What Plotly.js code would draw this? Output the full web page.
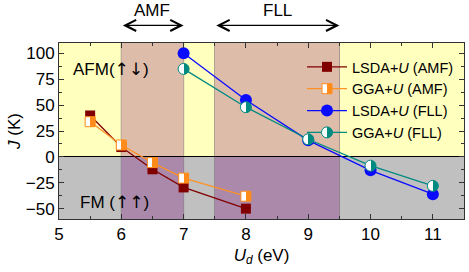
<!DOCTYPE html>
<html>
<head>
<meta charset="utf-8">
<script src="https://cdn.plot.ly/plotly-3.0.1.min.js"></script>
<style>html,body{margin:0;padding:0;background:#fff}#chart{width:469px;height:272px}</style>
</head>
<body>
<div id="chart"></div>
<script>
// ---- data ----
const amfU = [5.5, 6, 6.5, 7, 8];
const lsdaAMF = [40, 9.5, -12, -29.5, -50];
const ggaAMF = [34, 11.5, -5.5, -20.5, -38];
const fllU = [7, 8, 9, 10, 11];
const lsdaFLL = [100, 55, 16, -13, -36];
const ggaFLL = [85, 48, 17, -8.5, -28];
const amfRegion = [6, 7];
const fllRegion = [7.5, 9.5];
const yTicks = [-50, -25, 0, 25, 50, 75, 100];
const xTicks = [5, 6, 7, 8, 9, 10, 11];

const FONT = 'Liberation Sans, Arial, sans-serif';
const ARROWFONT = 'DejaVu Sans';
const yellow = '#FFFFBE', brown = '#DDBCA9', gray = '#C0C0C0', purple = '#AB89AB';

const traces = [
  {x: amfU, y: lsdaAMF, name: 'LSDA+<i>U</i> (AMF)', mode: 'lines+markers',
   line: {color: '#800000', width: 1.3},
   marker: {symbol: 'square', size: 10, color: '#800000'}},
  {x: amfU, y: ggaAMF, name: 'GGA+<i>U</i> (AMF)', mode: 'lines+markers',
   line: {color: '#FF9126', width: 1.3},
   marker: {symbol: 'square', size: 10, color: '#FF8C1A', line: {color: '#FF8C1A', width: 1},
            gradient: {type: 'horizontal', color: '#FFFFFF'}}},
  {x: fllU, y: lsdaFLL, name: 'LSDA+<i>U</i> (FLL)', mode: 'lines+markers',
   line: {color: '#0A0AFF', width: 1.3},
   marker: {symbol: 'circle', size: 12, color: '#0A0AFF'}},
  {x: fllU, y: ggaFLL, name: 'GGA+<i>U</i> (FLL)', mode: 'lines+markers',
   line: {color: '#008B80', width: 1.3},
   marker: {symbol: 'circle', size: 11, color: '#008B80', line: {color: '#008B80', width: 1},
            gradient: {type: 'horizontal', color: '#FFFFFF'}}}
];

const shapes = [];
shapes.push({type: 'rect', xref: 'paper', x0: 0, x1: 1, yref: 'y', y0: -60, y1: 0, fillcolor: gray, line: {width: 0}, layer: 'below'});
[amfRegion, fllRegion].forEach(r => {
  shapes.push({type: 'rect', x0: r[0], x1: r[1], yref: 'y', y0: 0, y1: 110, fillcolor: brown, line: {width: 0}, layer: 'below'});
  shapes.push({type: 'rect', x0: r[0], x1: r[1], yref: 'y', y0: -60, y1: 0, fillcolor: purple, line: {width: 0}, layer: 'below'});
  r.forEach(v => shapes.push({type: 'line', x0: v, x1: v, yref: 'paper', y0: 0, y1: 1, line: {color: '#777', width: 1}, layer: 'below'}));
});

function arrowAnn(r) {
  return {x: r[1], y: 1.1, xref: 'x', yref: 'paper', ax: r[0], ay: 0, axref: 'x', ayref: 'pixel',
          showarrow: true, arrowside: 'end+start', arrowhead: 5, arrowsize: 1.8, arrowwidth: 1.2,
          arrowcolor: '#000', text: ''};
}
const annotations = [
  arrowAnn(amfRegion), arrowAnn(fllRegion),
  {x: (amfRegion[0] + amfRegion[1]) / 2, y: 1.185, xref: 'x', yref: 'paper', yanchor: 'middle', text: 'AMF', showarrow: false, font: {size: 17}},
  {x: (fllRegion[0] + fllRegion[1]) / 2, y: 1.185, xref: 'x', yref: 'paper', yanchor: 'middle', text: 'FLL', showarrow: false, font: {size: 17}},
  {x: 5.2, y: 85, xref: 'x', yref: 'y', yanchor: 'middle', text: 'AFM(<span style="font-family:' + ARROWFONT + '">↑↓</span>)', showarrow: false, xanchor: 'left', font: {size: 17}},
  {x: 5.3, y: -44, xref: 'x', yref: 'y', yanchor: 'middle', text: 'FM (<span style="font-family:' + ARROWFONT + '">↑↑</span>)', showarrow: false, xanchor: 'left', font: {size: 17}}
];

const layout = {
  width: 469, height: 272,
  margin: {l: 59, r: 5, t: 43, b: 53},
  paper_bgcolor: '#fff', plot_bgcolor: yellow,
  font: {family: FONT, size: 17, color: '#000'},
  showlegend: true,
  legend: {x: 0.6, y: 0.955, xanchor: 'left', yanchor: 'top', bgcolor: 'rgba(0,0,0,0)',
           font: {size: 14.5}, tracegroupgap: 0, itemwidth: 40},
  xaxis: {range: [5, 11.5], tickvals: xTicks, ticks: 'inside', ticklen: 5, tickcolor: '#333',
          minor: {dtick: 0.5, ticks: 'inside', ticklen: 3, tickcolor: '#333'},
          showline: true, linecolor: '#333', linewidth: 1, mirror: 'allticks', showgrid: false, zeroline: false,
          title: {text: '<i>U</i><sub><i>d</i></sub> (eV)', font: {size: 17}, standoff: 5}},
  yaxis: {range: [-60, 110], tickvals: yTicks, ticks: 'inside', ticklen: 5, tickcolor: '#333',
          minor: {dtick: 12.5, tick0: 0, ticks: 'inside', ticklen: 3, tickcolor: '#333'},
          showline: true, linecolor: '#333', linewidth: 1, mirror: 'allticks', showgrid: false,
          zeroline: true, zerolinecolor: '#000', zerolinewidth: 1.2,
          title: {text: '<i>J</i> (K)', font: {size: 17}, standoff: 0}},
  shapes: shapes,
  annotations: annotations
};

function sharpenGradients() {
  // turn the smooth marker gradients into a crisp half fill (white left, colour right)
  document.querySelectorAll('#chart linearGradient').forEach(g => {
    const stops = Array.from(g.querySelectorAll('stop'));
    if (stops.length < 2) return;
    const cols = stops.map(s => ({c: s.getAttribute('stop-color'), o: s.getAttribute('stop-opacity')}));
    let white = cols.find(c => /255,\s*255,\s*255|#fff/i.test(c.c)) || cols[0];
    let other = cols.find(c => c !== white) || cols[1];
    g.setAttribute('x1', '0'); g.setAttribute('x2', '1');
    g.setAttribute('y1', '0'); g.setAttribute('y2', '0');
    stops.forEach(s => s.remove());
    [[0, white], [0.5, white], [0.5, other], [1, other]].forEach(([off, col]) => {
      const s = document.createElementNS('http://www.w3.org/2000/svg', 'stop');
      s.setAttribute('offset', off);
      s.setAttribute('stop-color', col.c);
      if (col.o !== null) s.setAttribute('stop-opacity', col.o);
      g.appendChild(s);
    });
  });
}
Plotly.newPlot('chart', traces, layout, {staticPlot: true, displayModeBar: false}).then(sharpenGradients);
</script>
</body>
</html>
